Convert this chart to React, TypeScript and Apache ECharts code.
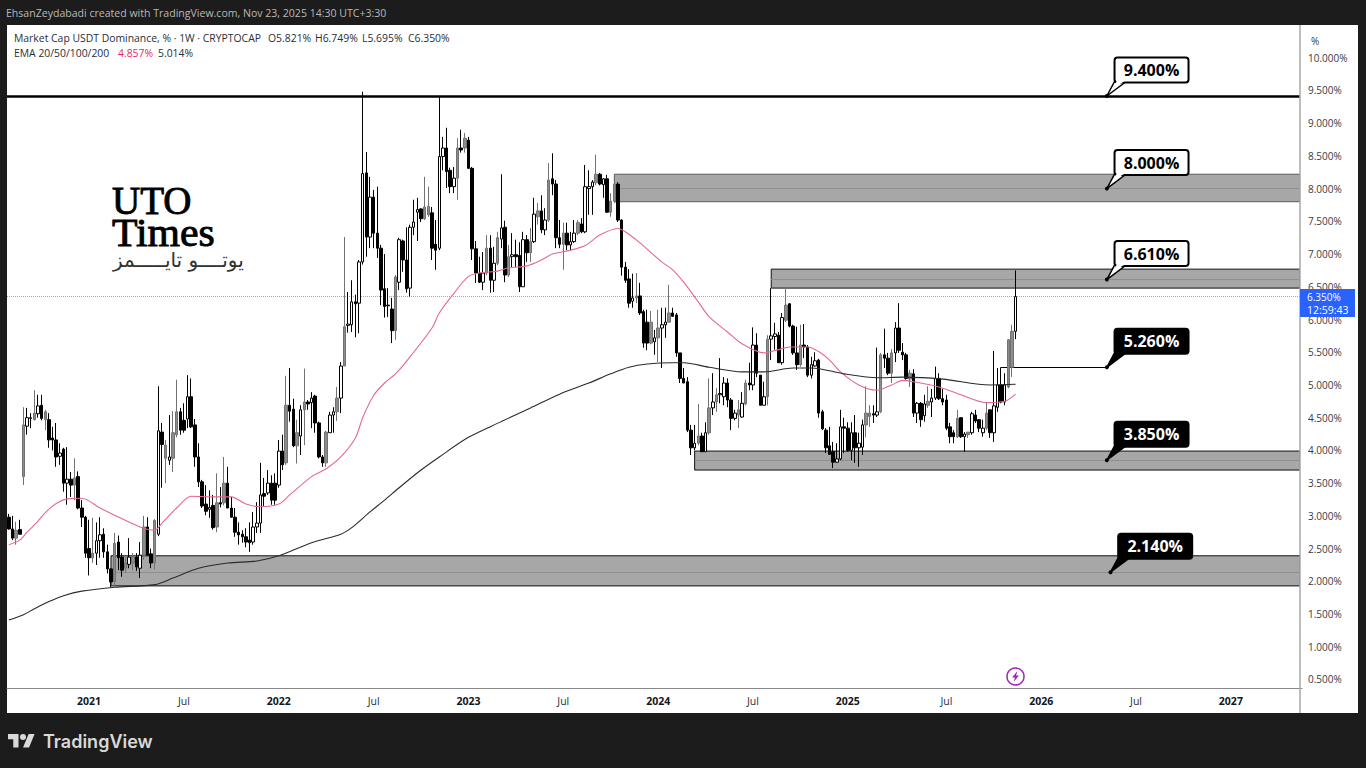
import React, { useEffect, useRef } from "react";
import * as echarts from "echarts";

// Each candle: [open, close, low, high] in %
const candles2020: number[][] = [
  [2.98,2.80,2.79,3.03],[2.80,2.66,2.63,3.00],[2.66,2.78,2.56,2.91],[2.79,2.72,2.72,2.94],[3.60,4.39,3.47,4.66],
  [4.37,4.50,4.24,4.65],[4.49,4.50,4.34,4.57],[4.47,4.57,4.46,4.92],[4.56,4.68,4.50,4.85],[4.69,4.49,4.46,4.85],
  [4.47,4.59,4.31,4.62],[4.47,4.16,4.04,4.57],[4.19,4.16,4.00,4.36],[4.16,3.90,3.75,4.42],[3.91,3.96,3.78,4.11],
  [4.02,3.50,3.37,4.04],[3.50,3.56,3.17,4.05],[3.56,3.47,3.29,3.67],[3.47,3.58,3.24,3.88],[3.60,3.12,3.10,3.68],
  [3.12,2.98,2.83,3.24],[2.98,2.43,2.36,3.00],[2.50,2.36,2.09,2.94],[2.36,2.43,2.28,2.97],[2.43,2.62,2.25,2.90],
  [2.62,2.71,2.36,2.98],[2.72,2.45,2.36,2.81],[2.45,2.19,2.12,2.56],[2.19,1.99,1.91,2.20],[2.00,2.58,1.92,2.74],
  [2.60,2.36,2.17,2.70],[2.37,2.17,2.07,2.43],[2.20,2.28,2.13,2.37],[2.26,2.37,2.20,2.66],[2.28,2.37,2.17,2.43],
  [2.37,2.22,2.16,2.43],[2.20,2.40,2.05,2.60],[2.40,2.83,2.33,3.00],[2.83,2.40,2.40,2.98],[2.42,2.28,2.20,2.50],
  [2.28,2.93,2.18,2.95],[2.72,4.30,2.69,4.98],[4.28,4.09,3.43,4.42],[3.88,4.08,3.50,4.16],[3.85,3.90,3.78,4.54],
  [3.88,4.27,3.67,4.60],
];
const candles2021: number[][] = [
  [4.24,4.59,4.20,5.08],[4.59,4.31,4.24,4.65],[4.46,4.31,4.27,4.72],[4.48,4.82,4.34,5.15],[4.82,4.36,4.34,5.10],
  [4.39,3.90,3.75,4.48],[3.90,3.52,3.44,4.11],[3.52,3.15,3.12,3.55],[3.18,3.07,3.01,3.47],[3.10,3.13,2.97,3.39],
  [3.16,2.82,2.79,3.32],[2.83,3.20,2.75,3.65],[3.20,3.18,3.13,3.44],[3.20,3.50,3.16,3.90],[3.50,3.12,3.12,3.75],
  [3.12,2.98,2.97,3.29],[2.98,2.75,2.68,3.12],[2.75,2.71,2.56,2.90],[2.72,2.68,2.59,2.78],[2.68,2.60,2.52,2.81],
  [2.63,2.59,2.45,2.90],[2.60,2.83,2.56,3.06],[2.83,2.89,2.74,3.21],[2.89,3.32,2.74,3.81],[3.34,3.30,3.15,3.58],
  [3.35,3.50,3.32,3.70],[3.50,3.24,3.17,3.62],[3.50,3.24,3.17,3.65],[3.47,3.99,3.43,4.16],[3.99,3.78,3.70,4.24],
  [3.81,4.69,3.78,5.14],[4.69,4.60,4.44,5.26],[4.63,4.07,4.05,4.79],[4.07,4.27,3.80,4.47],[4.22,4.62,3.93,4.69],
  [4.62,4.74,4.08,5.25],[4.74,4.71,4.62,4.77],[4.73,4.80,4.34,4.89],[4.83,4.42,4.27,4.85],[4.42,3.90,3.88,4.44],
  [3.90,3.81,3.75,3.93],[3.81,4.28,3.75,4.30],[4.27,4.54,4.27,4.59],[4.54,4.59,4.27,4.66],[4.59,4.80,4.45,4.97],
  [4.80,5.29,4.57,5.35],
];
const candles2022: number[][] = [
  [5.29,5.89,5.29,7.26],[5.91,5.93,5.80,6.42],[5.92,6.27,5.81,6.60],[6.27,6.24,5.73,6.38],[6.25,6.88,5.79,6.91],
  [6.88,8.23,6.84,9.48],[8.24,7.26,6.96,8.56],[7.26,7.87,7.09,8.18],[7.87,7.32,7.09,7.98],[7.32,7.09,6.94,8.03],
  [7.09,6.45,6.22,7.14],[6.47,6.20,6.03,7.00],[6.22,6.21,6.04,6.48],[6.16,5.83,5.64,6.33],[5.83,6.65,5.69,6.68],
  [6.57,7.22,6.45,7.25],[7.20,6.91,6.73,7.22],[6.91,6.47,6.41,7.41],[6.48,7.41,6.35,7.45],[7.41,7.49,7.29,7.83],
  [7.64,7.68,7.20,7.86],[7.69,7.54,7.49,7.70],[7.54,7.72,7.52,8.18],[7.60,7.73,7.57,8.03],[7.63,7.09,6.91,7.72],
  [7.15,7.06,6.76,7.52],[7.09,8.49,7.06,9.40],[8.49,8.62,8.28,8.79],[8.62,8.26,8.01,8.93],[8.28,8.03,7.93,8.32],
  [8.03,8.16,7.93,8.33],[8.16,8.62,7.83,8.77],[8.62,8.59,8.55,8.90],[8.62,8.77,8.55,8.85],[8.74,8.31,8.30,8.79],
  [8.31,7.08,6.91,8.33],[7.08,6.71,6.56,7.20],[6.71,6.57,6.56,6.96],[6.57,6.71,6.45,7.03],[6.71,7.09,6.68,7.29],
  [7.09,6.60,6.41,7.29],[6.60,6.86,6.42,7.11],[6.86,7.25,6.83,7.34],[7.23,7.40,7.09,8.22],[7.41,6.68,6.57,7.51],
  [6.68,6.96,6.65,7.14],
];
const candles2023: number[][] = [
  [6.96,6.99,6.79,7.32],[6.99,6.96,6.80,7.22],[6.98,6.50,6.42,7.18],[6.50,7.22,6.50,7.34],[7.22,7.02,6.88,7.29],
  [7.02,7.19,6.88,7.40],[7.19,7.61,7.17,7.86],[7.57,7.66,7.45,7.78],[7.66,7.37,7.32,7.90],[7.37,7.52,7.29,7.70],
  [7.52,8.13,7.49,8.39],[8.15,8.07,7.90,8.54],[8.07,7.25,7.09,8.13],[7.25,7.15,7.09,7.52],[7.15,7.32,6.76,7.48],
  [7.32,7.14,7.06,7.48],[7.14,7.19,7.06,7.34],[7.19,7.32,7.17,7.52],[7.32,7.48,7.29,7.52],[7.46,7.34,7.32,7.55],
  [7.34,8.03,7.32,8.36],[8.00,8.03,7.60,8.28],[8.03,8.10,7.60,8.13],[8.09,8.22,8.05,8.52],[8.22,8.07,8.05,8.24],
  [8.06,8.15,7.86,8.16],[8.15,7.64,7.63,8.21],[7.64,7.81,7.57,7.93],[7.81,8.07,7.78,8.10],[8.07,7.52,7.49,8.10],
  [7.52,6.80,6.67,7.53],[6.80,6.60,6.56,6.88],[6.62,6.25,6.18,6.77],[6.28,6.33,6.18,6.70],[6.33,6.36,6.25,6.71],
  [6.36,6.10,6.07,6.56],[6.12,5.64,5.57,6.15],[5.96,5.64,5.53,6.15],[5.64,5.96,5.62,6.13],[5.66,5.72,5.46,5.84],
  [5.72,5.87,5.35,6.15],[5.87,5.92,5.26,6.18],[5.92,5.96,5.72,6.18],[5.96,6.10,5.96,6.53],[6.10,6.05,6.04,6.18],
  [6.07,5.49,5.43,6.10],
];
const candles2024: number[][] = [
  [5.49,5.10,5.03,5.49],[5.10,5.03,5.03,5.26],[5.05,4.31,4.28,5.12],[4.31,4.04,3.93,4.39],[4.04,4.11,4.00,4.39],
  [4.11,4.22,4.08,4.71],[4.22,3.98,3.98,4.27],[3.98,4.27,3.98,4.43],[4.27,4.65,4.24,5.10],[4.65,4.74,4.54,5.18],
  [4.74,4.85,4.59,4.95],[4.85,4.87,4.72,5.41],[4.82,5.03,4.69,5.12],[5.03,4.77,4.66,5.10],[4.77,4.49,4.31,4.80],
  [4.49,4.57,4.46,4.62],[4.54,4.62,4.34,4.77],[4.51,4.72,4.50,4.89],[4.71,5.03,4.69,5.08],[5.03,5.00,4.92,5.34],
  [5.00,5.61,4.92,5.88],[5.61,5.18,5.12,5.79],[5.15,4.69,4.69,5.15],[4.69,4.82,4.69,5.05],[4.82,5.70,4.69,5.76],
  [5.70,5.75,5.38,6.48],[5.74,5.78,5.54,5.95],[5.76,5.34,5.34,5.81],[5.34,6.03,5.31,6.10],[5.99,6.22,5.96,6.50],
  [6.24,5.90,5.88,6.25],[5.90,5.49,5.46,5.92],[5.49,5.31,5.23,5.89],[5.31,5.61,5.28,5.92],[5.61,5.58,5.41,5.93],
  [5.58,5.15,5.12,5.61],[5.15,5.31,5.10,5.43],[5.29,5.37,5.28,5.50],[5.38,4.57,4.50,5.40],[4.59,4.33,4.31,4.62],
  [4.31,4.04,3.96,4.34],[4.07,3.94,3.93,4.36],[3.98,3.82,3.73,4.13],[3.82,3.87,3.81,4.11],[3.87,4.36,3.85,4.62],
  [4.36,4.34,3.96,4.50],
];
const candles2025: number[][] = [
  [4.34,4.00,3.98,4.43],[4.00,4.27,3.85,4.43],[4.27,4.04,3.81,4.54],[4.04,4.11,3.75,4.27],[4.05,4.39,3.93,4.47],
  [4.39,4.57,4.20,4.98],[4.52,4.57,4.36,4.69],[4.56,4.54,4.42,4.69],[4.54,4.59,4.51,5.57],[4.59,5.46,4.57,5.49],
  [5.46,5.41,5.26,5.86],[5.41,5.18,5.15,5.49],[5.18,5.49,5.03,5.55],[5.49,5.87,5.35,5.96],[5.87,5.53,5.49,6.25],
  [5.50,5.46,5.38,5.64],[5.46,5.10,5.08,5.49],[5.09,5.18,4.97,5.23],[5.17,4.57,4.51,5.24],[4.57,4.72,4.42,4.74],
  [4.72,4.47,4.36,4.74],[4.53,4.71,4.44,4.85],[4.69,4.75,4.65,4.98],[4.74,4.80,4.51,4.94],[4.80,5.10,4.77,5.28],
  [5.10,4.79,4.77,5.18],[4.79,4.74,4.69,4.94],[4.77,4.34,4.31,4.85],[4.36,4.21,4.11,4.42],[4.27,4.21,4.11,4.31],
  [4.21,4.49,4.19,4.62],[4.50,4.21,4.19,4.51],[4.21,4.25,3.98,4.28],[4.24,4.28,4.19,4.28],[4.27,4.56,4.24,4.59],
  [4.54,4.45,4.42,4.62],[4.47,4.34,4.28,4.47],[4.27,4.34,4.21,4.47],[4.34,4.57,4.31,4.74],[4.62,4.27,4.19,4.62],
  [4.27,4.68,4.13,5.52],[4.66,5.00,4.59,5.26],[5.00,4.74,4.72,5.27],[4.74,5.00,4.69,5.18],[4.97,5.69,4.95,5.70],
  [5.27,5.82,5.12,5.92],[5.82,6.35,5.70,6.75],
];
const candles = [...candles2020, ...candles2021, ...candles2022, ...candles2023, ...candles2024, ...candles2025];

// Weeks whose hollow body reads as grey in the picture
const softWeeks = [
  2,4,7,10,18,23,29,32,34,37,40,43,45,46,57,59,76,79,81,87,90,92,106,114,115,123,125,131,134,137,143,145,148,152,156,161,
  165,166,172,176,178,181,189,192,194,200,202,208,213,217,235,236,239,242,247,252,260,263,268,274,275,
];

// EMA lines, [week index, value]
const ema50: number[][] = [
  [0,2.56],[3,2.63],[5,2.75],[8,2.92],[10,3.05],[13,3.19],[16,3.26],[20,3.27],[25,3.12],[29,3.01],[36,2.83],[40,2.78],
  [42,2.89],[46,3.12],[50,3.3],[56,3.29],[61,3.29],[65,3.18],[69,3.14],[74,3.18],[77,3.32],[83,3.6],[87,3.72],[91,3.9],[95,4.19],
  [97,4.5],[100,4.84],[103,5.03],[106,5.17],[109,5.36],[116,5.87],[118,6.1],[122,6.4],[126,6.66],[129,6.71],[134,6.74],[137,6.79],
  [142,6.82],[146,6.91],[149,7.0],[154,7.06],[158,7.13],[162,7.29],[167,7.39],[169,7.34],[173,7.17],[179,6.88],[182,6.76],[185,6.57],
  [189,6.27],[192,6.04],[197,5.81],[201,5.63],[207,5.49],[211,5.54],[214,5.58],[219,5.58],[222,5.51],[225,5.38],[228,5.2],[233,5.0],
  [238,4.92],[242,5.0],[245,5.07],[248,5.05],[255,4.97],[261,4.85],[268,4.73],[273,4.75],[276,4.86],
];
const ema200: number[][] = [
  [0,1.41],[4,1.49],[7,1.58],[11,1.69],[15,1.78],[20,1.85],[29,1.91],[40,1.95],[45,2.05],[52,2.2],[60,2.28],[68,2.31],[74,2.39],
  [83,2.59],[91,2.72],[94,2.82],[99,3.06],[103,3.24],[107,3.43],[113,3.7],[118,3.9],[126,4.2],[135,4.44],[143,4.65],[151,4.86],
  [159,5.03],[165,5.17],[170,5.27],[175,5.32],[182,5.34],[185,5.34],[192,5.27],[201,5.2],[207,5.2],[215,5.26],[220,5.26],[229,5.17],
  [238,5.11],[245,5.12],[256,5.09],[269,5.0],[276,5.01],
];

const weekCount = 355;
const startDate = Date.UTC(2020, 7, 3);
const weeks: string[] = Array.from({ length: weekCount }, (_, i) =>
  new Date(startDate + i * 7 * 86400000).toISOString().slice(0, 10)
);
const timeTicks: [number, string][] = [
  [22,"2021"],[48,"Jul"],[74,"2022"],[100,"Jul"],[126,"2023"],[152,"Jul"],[178,"2024"],[204,"Jul"],
  [230,"2025"],[257,"Jul"],[283,"2026"],[309,"Jul"],[335,"2027"],
];
const priceTicks = [0.5,1,1.5,2,2.5,3,3.5,4,4.5,5,5.5,6,6.5,7,7.5,8,8.5,9,9.5,10];

// Zones: [start week, top, bottom, middle]
const zones: number[][] = [
  [166, 8.22, 7.80, 8.0],
  [209, 6.77, 6.48, 6.61],
  [188, 3.99, 3.70, 3.85],
  [28, 2.39, 1.93, 2.14],
];
const resistance = 9.415;
const lastPrice = 6.35;
const midSupport = 5.27;
const lastWeekIndex = 354;

// Callouts: [week index, level, dark flag]
const calloutPoints: number[][] = [
  [301, 9.415, 0],
  [301, 8.0, 0],
  [301, 6.61, 0],
  [301, 5.27, 1],
  [301, 3.85, 1],
  [302, 2.14, 1],
];
const calloutTexts = ["9.400%", "8.000%", "6.610%", "5.260%", "3.850%", "2.140%"];

const headerPrefix = "Market Cap USDT Dominance, % · 1W · CRYPTOCAP";
const ohlc = ["O5.821%", "H6.749%", "L5.695%", "C6.350%"];

echarts.graphic.registerShape(
  "tvlogo",
  echarts.graphic.extendPath("M14 22H7V11H0V4h14v18zM28 22h-8l7.5-18h8L28 22zM20 4a4 4 0 1 0 0 8 4 4 0 1 0 0-8z", {})
);

const UI = '"Open Sans", sans-serif';

function renderCallout(params: any, api: any) {
  const [px, py] = api.coord([api.value(0), api.value(1)]);
  const dark = api.value(2) === 1;
  const text = calloutTexts[params.dataIndex];
  const edge = "#000";
  const fill = dark ? "#000" : "#fff";
  return {
    type: "group",
    x: px - 0.8,
    y: py,
    children: [
      { type: "polygon", shape: { points: [[0.8,0],[8.8,-15],[20.8,-15]] }, style: { fill, stroke: edge, lineWidth: 1.5 } },
      { type: "rect", shape: { x: 8.5, y: -38.5, width: 74, height: 25, r: 3 }, style: { fill, stroke: edge, lineWidth: 2 } },
      { type: "polygon", shape: { points: [[6.8,-8],[10.8,-15],[18.8,-15]] }, style: { fill, stroke: "none" } },
      { type: "circle", shape: { cx: 0.8, cy: 0, r: 2 }, style: { fill: "#000" } },
      { type: "text", style: { x: 45.5, y: -26, text, fill: dark ? "#fff" : "#000", font: `bold 16px ${UI}`, textAlign: "center", textVerticalAlign: "middle" } },
    ],
  };
}

function txt(x: number, y: number, text: string, fill: string, font: string, extra: any = {}) {
  const { scaleX, ...style } = extra;
  return {
    type: "text", z: 70, x, y,
    ...(scaleX ? { scaleX } : {}),
    style: { text, fill, font, textVerticalAlign: "middle", ...style },
  };
}

export default function App() {
  const ref = useRef<HTMLDivElement>(null);
  useEffect(() => {
    document.body.style.margin = "0";
    document.body.style.overflow = "hidden";
    const chart = echarts.init(ref.current!, undefined, { renderer: "svg" });
    const tickMap = new Map(timeTicks);
    const soft = new Set(softWeeks);
    const candleData = candles.map((value, i) =>
      soft.has(i) ? { value, itemStyle: { color: "#8c8c8c", borderColor: "#727272", color0: "#8c8c8c", borderColor0: "#727272" } } : value
    );
    const zoneArea = zones.map((z, i) => [
      {
        xAxis: z[0],
        yAxis: z[1],
        itemStyle: { color: "#a7a7a7", borderColor: i === 0 ? "#5a5a5a" : "#111", borderWidth: 1 },
      },
      { xAxis: lastWeekIndex, yAxis: z[2] },
    ]);
    const zoneMids = zones.map((z) => [
      { xAxis: z[0], yAxis: z[3], lineStyle: { color: "#8f8f8f", width: 1, type: "solid" } },
      { xAxis: lastWeekIndex, yAxis: z[3] },
    ]);
    chart.setOption({
      animation: false,
      backgroundColor: "#1c1c1c",
      textStyle: { fontFamily: UI },
      grid: { left: 7, top: 25, width: 1295, height: 663, containLabel: false },
      xAxis: {
        type: "category",
        data: weeks,
        boundaryGap: true,
        axisLine: { show: true, lineStyle: { color: "#8a8a8a", width: 1 } },
        axisTick: { show: false },
        splitLine: { show: false },
        axisLabel: {
          show: true,
          margin: 7,
          hideOverlap: false,
          interval: (i: number) => tickMap.has(i),
          formatter: (_: string, i: number) => {
            const t = tickMap.get(i) ?? "";
            return t === "Jul" ? `{m|${t}}` : `{y|${t}}`;
          },
          rich: {
            y: { fontFamily: UI, fontSize: 10.5, fontWeight: "bold", color: "#131722" },
            m: { fontFamily: UI, fontSize: 10.5, color: "#2a2e39" },
          },
        },
      },
      yAxis: {
        type: "value",
        position: "right",
        min: 0.37,
        max: 10.5,
        z: 5,
        axisLine: { show: false },
        axisTick: { show: false },
        splitLine: { show: false },
        axisLabel: {
          show: true,
          margin: 6,
          customValues: priceTicks,
          formatter: (v: number) => v.toFixed(3) + "%",
          fontFamily: UI,
          fontSize: 10,
          color: "#363a45",
        },
      },
      series: [
        {
          type: "candlestick",
          name: "USDT.D",
          z: 3,
          data: candleData,
          barWidth: 3,
          itemStyle: { color: "#ffffff", color0: "#000000", borderColor: "#000000", borderColor0: "#000000", borderWidth: 1 },
          markArea: { silent: true, z: 1, data: zoneArea },
          markLine: {
            silent: true,
            symbol: "none",
            z: 2,
            label: { show: false },
            data: [
              ...zoneMids,
              { yAxis: resistance, lineStyle: { color: "#000", width: 2.5, type: "solid" } },
              { yAxis: lastPrice, lineStyle: { color: "#8fa3f0", width: 1, type: "dotted" } },
              [
                { xAxis: 272, yAxis: midSupport, lineStyle: { color: "#000", width: 1, type: "solid" } },
                { xAxis: 301, yAxis: midSupport },
              ],
            ],
          },
        },
        {
          type: "line",
          name: "EMA 50",
          z: 4,
          data: ema50,
          smooth: 0.3,
          showSymbol: false,
          symbol: "none",
          lineStyle: { color: "#e5688f", width: 1.1 },
        },
        {
          type: "line",
          name: "EMA 200",
          z: 4,
          data: ema200,
          smooth: 0.3,
          showSymbol: false,
          symbol: "none",
          lineStyle: { color: "#2b2b2b", width: 1.1 },
        },
        {
          type: "custom",
          name: "Callouts",
          z: 6,
          clip: false,
          data: calloutPoints,
          encode: { x: 0, y: 1 },
          renderItem: renderCallout,
        },
      ],
      graphic: [
        { type: "rect", z: -10, shape: { x: 7, y: 25, width: 1351, height: 688 }, style: { fill: "#ffffff" } },
        // keeps full-width lines from running past the price scale edge
        { type: "rect", z: 60, shape: { x: 1300, y: 25, width: 4, height: 663 }, style: { fill: "#ffffff" } },
        { type: "line", z: 61, shape: { x1: 1300, y1: 25, x2: 1300, y2: 713 }, style: { stroke: "#a8a8a8", lineWidth: 1.5 } },
        // top of the price scale hides the 10% label's upper edge
        { type: "rect", z: 60, shape: { x: 1301, y: 26, width: 56, height: 27 }, style: { fill: "#ffffff" } },
        txt(6, 13, "EhsanZeydabadi created with TradingView.com, Nov 23, 2025 14:30 UTC+3:30", "#b9b9b9", `10.55px ${UI}`),
        txt(14, 38, headerPrefix, "#2a2e39", `10.4px ${UI}`),
        txt(268, 38, ohlc[0], "#2a2e39", `10.4px ${UI}`),
        txt(315, 38, ohlc[1], "#2a2e39", `10.4px ${UI}`),
        txt(362, 38, ohlc[2], "#2a2e39", `10.4px ${UI}`),
        txt(408, 38, ohlc[3], "#2a2e39", `10.4px ${UI}`),
        txt(14, 53, "EMA 20/50/100/200", "#2a2e39", `10.4px ${UI}`),
        txt(118, 53, "4.857%", "#e91e63", `10.4px ${UI}`),
        txt(158, 53, "5.014%", "#2a2e39", `10.4px ${UI}`),
        txt(1311, 41, "%", "#363a45", `10px ${UI}`),
        // watermark
        txt(112, 200, "UTO", "#000", '39px "Liberation Serif"', { stroke: "#000", lineWidth: 0.9 }),
        txt(112, 233, "Times", "#000", '39px "Liberation Serif"', { stroke: "#000", lineWidth: 0.9, scaleX: 1.07 }),
        txt(113, 260, "یوتــــو تایـــــمز", "#333", '20px "DejaVu Sans"'),
        // last price tag
        { type: "rect", z: 65, shape: { x: 1300, y: 289, width: 55, height: 28 }, style: { fill: "#2962ff" } },
        txt(1307, 297, "6.350%", "#ffffff", `10px ${UI}`),
        txt(1307, 310, "12:59:43", "#ffffff", `10.5px ${UI}`),
        // lightning badge
        { type: "circle", z: 65, shape: { cx: 1015.5, cy: 676.5, r: 8.5 }, style: { fill: "#fff", stroke: "#9c27b0", lineWidth: 1.5 } },
        { type: "polygon", z: 66, shape: { points: [[1017.5,671],[1012,677.5],[1015,677.5],[1013.5,682],[1019,675.5],[1016,675.5]] }, style: { fill: "#9c27b0" } },
        // footer
        { type: "tvlogo", z: 65, x: 8, y: 731, scaleX: 0.75, scaleY: 0.75, style: { fill: "#d9d9d9" } },
        txt(43, 741, "TradingView", "#d9d9d9", "600 18px Inter"),
      ],
    });
    return () => chart.dispose();
  }, []);
  return <div ref={ref} style={{ position: "absolute", left: 0, top: 0, width: 1366, height: 768 }} />;
}
